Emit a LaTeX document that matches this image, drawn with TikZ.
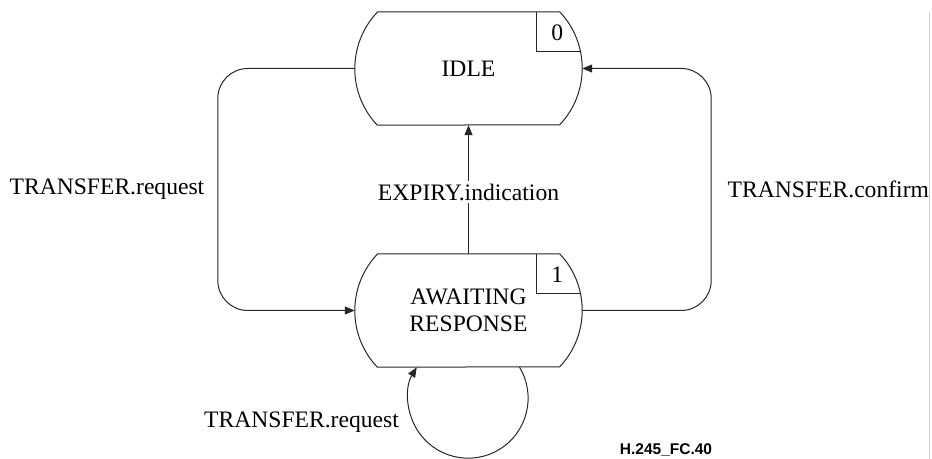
\documentclass[tikz,border=0pt]{standalone}
\usepackage{fontspec}
\setmainfont{Liberation Serif}
\newfontfamily\tagfont{Liberation Sans}
\usetikzlibrary{calc,arrows.meta}
\tikzset{
  statebox/.style={rectangle, draw=none, inner sep=0pt, minimum width=227bp, minimum height=113bp, align=center,
    font=\fontsize{23.6bp}{27bp}\selectfont},
  lab/.style={inner sep=0pt, font=\fontsize{23.6bp}{27bp}\selectfont},
  arr/.style={-{Triangle[length=10bp,width=8bp]}},
  line/.style={line width=1bp, draw=black!85}
}
\newcommand\stateoutline[2]{%
  \draw[line] ($(#1.north west)+(22.5,0)$) -- ($(#1.north east)+(-22.5,0)$)
    arc[start angle=43.43, end angle=-43.43, radius=82.19bp]
    -- ($(#1.south west)+(22.5,0)$)
    arc[start angle=-136.57, end angle=-223.43, radius=82.19bp] -- cycle;
  \draw[line] ($(#1.north east)+(-46,0)$) -- ++(0,-40) -- ++(44.3,0);
  \node[lab] (#1num) at ($(#1.north east)+(-25,-21)$) {#2};
}
\begin{document}
\begin{tikzpicture}[x=1bp,y=1bp]
\useasboundingbox (0,0) rectangle (932,459);
\node[statebox] (idle) at (468.5,390.5) {IDLE};
\node[statebox] (await) at (468.5,148.5) {AWAITING\\RESPONSE};
\stateoutline{idle}{0}
\stateoutline{await}{1}
% expiry
\draw[line,arr] (await.north) -- node[lab,pos=0.48,fill=white,inner ysep=3bp] (lexp) {EXPIRY.indication} (idle.south);
% left loop
\draw[line,arr,rounded corners=30bp] (idle.west) -| ($(await.west)+(-137,0)$)
   node[lab,pos=0.75,left=13bp] (lreq) {TRANSFER.request} -- (await.west);
% right loop
\draw[line,arr,rounded corners=30bp] (await.east) -| ($(idle.east)+(129,0)$)
   node[lab,pos=0.75,right=16bp] (lconf) {TRANSFER.confirm} -- (idle.east);
% self loop
\draw[line,arr] ([xshift=51bp]await.south) arc[start angle=31.1, end angle=-211.1, radius=60bp];
\node[lab] (lself) at (301.5,37) {TRANSFER.request};
\node[inner sep=0pt, font=\tagfont\bfseries\fontsize{15.5bp}{18bp}\selectfont] (tag) at (666,9) {H.245\_FC.40};
\draw[line width=1bp, draw={rgb,255:red,255;green,190;blue,190}] (929,447) -- (929,0);
\end{tikzpicture}
\end{document}
